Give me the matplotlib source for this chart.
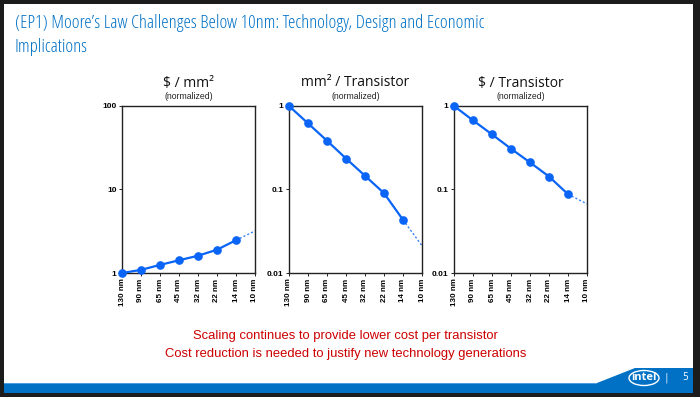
import matplotlib
matplotlib.use("Agg")
import matplotlib.pyplot as plt
from matplotlib.patches import Rectangle, Polygon, Ellipse
from matplotlib.ticker import FixedLocator, FixedFormatter, NullLocator

# ---------------- data ----------------
nodes = ['130 nm', '90 nm', '65 nm', '45 nm', '32 nm', '22 nm', '14 nm', '10 nm']
cost_per_mm2 = [1.0, 1.09, 1.25, 1.42, 1.61, 1.90, 2.47]
cost_per_mm2_proj = 3.19
mm2_per_transistor = [1.0, 0.62, 0.384, 0.235, 0.146, 0.0904, 0.0433]
mm2_per_transistor_proj = 0.0212
cost_per_transistor = [1.0, 0.673, 0.457, 0.308, 0.211, 0.143, 0.0878]
cost_per_transistor_proj = 0.0672

panel_titles = ['$ / mm²', 'mm² / Transistor', '$ / Transistor']
subtitle = '(normalized)'
yticks_1 = [1, 10, 100]
yticklabels_1 = ['1', '10', '100']
yticks_2 = [0.01, 0.1, 1]
yticklabels_2 = ['0.01', '0.1', '1']

slide_title = "(EP1) Moore’s Law Challenges Below 10nm: Technology, Design and Economic\nImplications"
note_lines = ["Scaling continues to provide lower cost per transistor",
              "Cost reduction is needed to justify new technology generations"]

# ---------------- figure ----------------
W, H = 700, 397
fig = plt.figure(figsize=(W / 100, H / 100), dpi=100, facecolor='#1c1c1c')

def fx(px):
    return px / W

def fy(py):
    return 1 - py / H

# white slide
fig.patches.append(Rectangle((fx(4), fy(393)), fx(689), 389 / H, transform=fig.transFigure,
                             facecolor='white', edgecolor='none', zorder=-10))
# bottom blue band
band = Polygon([(fx(4), fy(393)), (fx(4), fy(383)), (fx(597), fy(383)), (fx(635), fy(368)),
                (fx(693), fy(368)), (fx(693), fy(393))], closed=True,
               transform=fig.transFigure, facecolor='#0071c5', edgecolor='none', zorder=-5)
fig.patches.append(band)
fig.patches.append(Rectangle((fx(4), fy(384)), fx(593), 1.2 / H, transform=fig.transFigure,
                             facecolor='#4d9be0', edgecolor='none', zorder=-4))
# intel logo
fig.patches.append(Ellipse((fx(644), fy(378)), fx(30), 15 / H, transform=fig.transFigure,
                           facecolor='none', edgecolor='white', linewidth=1.0, zorder=3))
fig.text(fx(644), fy(378), 'intel', color='white', fontsize=8, ha='center', va='center',
         family=['Open Sans', 'DejaVu Sans'], fontweight='bold', zorder=4)
fig.text(fx(666), fy(378), '|', color='#cfe3f5', fontsize=8, ha='center', va='center', zorder=4)
fig.text(fx(685), fy(378), '5', color='white', fontsize=7, ha='center', va='center',
         family=['Open Sans', 'DejaVu Sans'], zorder=4)

# slide title
fig.text(fx(15), fy(14), slide_title, color='#0071c5', fontsize=13.4, ha='left', va='top',
         family=['Liberation Sans Narrow', 'Open Sans', 'DejaVu Sans'], fontstretch='condensed',
         linespacing=1.4)

# notes
fig.text(fx(345), fy(336), note_lines[0], color='#cc0000', fontsize=9.35, ha='center', va='center',
         family=['Liberation Sans', 'DejaVu Sans'])
fig.text(fx(346), fy(354), note_lines[1], color='#cc0000', fontsize=9.35, ha='center', va='center',
         family=['Liberation Sans', 'DejaVu Sans'])

# ---------------- panels ----------------
line_color = '#0a64f5'
panels = [
    (122, cost_per_mm2, cost_per_mm2_proj, (1, 100), yticks_1, yticklabels_1),
    (289, mm2_per_transistor, mm2_per_transistor_proj, (0.01, 1), yticks_2, yticklabels_2),
    (454, cost_per_transistor, cost_per_transistor_proj, (0.01, 1), yticks_2, yticklabels_2),
]
x_idx = list(range(len(nodes)))
for i, (left, vals, proj, ylim, yt, ytl) in enumerate(panels):
    ax = fig.add_axes([fx(left), fy(273), fx(133), 167 / H])
    ax.set_yscale('log')
    ax.set_xlim(0, len(nodes) - 1)
    ax.set_ylim(*ylim)
    n = len(vals)
    ax.plot(x_idx[n - 1:n + 1], [vals[-1], proj], color=line_color, linewidth=1.0,
            linestyle=(0, (1.5, 1.5)), alpha=0.8, zorder=2)
    ax.plot(x_idx[:n], vals, color=line_color, linewidth=1.6, marker='o', markersize=5.2,
            clip_on=False, zorder=3)
    ax.yaxis.set_major_locator(FixedLocator(yt))
    ax.yaxis.set_major_formatter(FixedFormatter(ytl))
    ax.yaxis.set_minor_locator(NullLocator())
    ax.set_xticks(x_idx)
    ax.set_xticklabels(nodes, rotation=90)
    ax.tick_params(axis='both', length=2, width=0.6, pad=2, colors='black')
    ax.tick_params(axis='x', labelsize=5.8)
    ax.tick_params(axis='y', labelsize=6.0)
    for lab in ax.get_xticklabels() + ax.get_yticklabels():
        lab.set_fontfamily(['Liberation Sans', 'DejaVu Sans'])
        lab.set_fontweight('bold')
    for sp in ax.spines.values():
        sp.set_linewidth(1.0)
        sp.set_color('#222222')
    ax.set_facecolor('white')
    cx = fx(left + 66.5)
    fig.text(cx, fy(83), panel_titles[i], fontsize=10, ha='center', va='center',
             family=['Open Sans', 'DejaVu Sans'], color='#111111')
    fig.text(cx, fy(96.5), subtitle, fontsize=6.2, ha='center', va='center',
             family=['Liberation Sans', 'DejaVu Sans'], color='#222222')

fig.savefig('out.png', dpi=100, facecolor=fig.get_facecolor())
